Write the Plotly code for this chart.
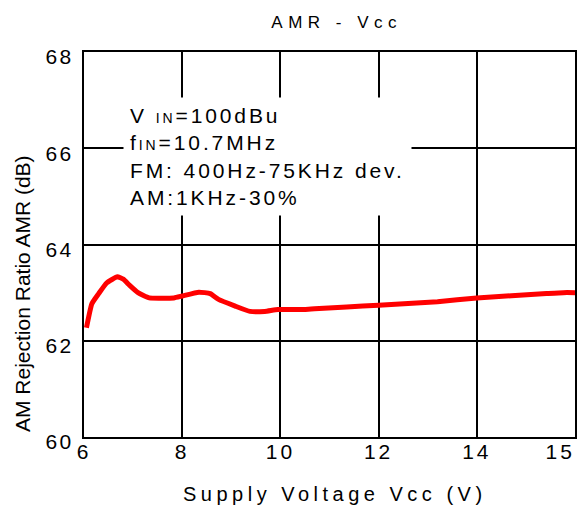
import numpy as np
import plotly.graph_objects as go

# ---- data ----
vcc = [6.05, 6.16, 6.30, 6.46, 6.68, 6.80, 6.93, 7.10, 7.33, 7.83, 8.00, 8.34, 8.57,
       8.74, 9.08, 9.38, 9.68, 9.95, 10.51, 10.79, 11.35, 12.00, 13.20, 14.00,
       14.71, 14.88, 15.00]
amr = [62.27, 62.77, 62.98, 63.20, 63.33, 63.28, 63.15, 63.00, 62.89, 62.89, 62.93,
       63.01, 62.98, 62.86, 62.72, 62.61, 62.61, 62.65, 62.65, 62.67, 62.70, 62.74,
       62.81, 62.89, 62.98, 63.00, 63.00]
x_tick_volts = [6, 8, 10, 12, 14, 15]
x_tick_labels = ["6", "8", "10", "12", "14", "15"]
y_ticks = [60, 62, 64, 66, 68]
title_text = "AMR - Vcc"
x_title = "Supply Voltage Vcc (V)"
y_title = "AM Rejection Ratio AMR (dB)"

FONT = "Liberation Sans, Arial, Helvetica, sans-serif"

# the reference axis spaces its labelled ticks evenly (14->15 as wide as 2 V)
grid_index = list(range(len(x_tick_volts)))
x_pos = np.interp(vcc, x_tick_volts, grid_index)
# label positions: the last label is pulled inside the frame as in the reference
label_pos = list(grid_index[:-1]) + [grid_index[-1] - 0.15]


def spaced(s, px):
    return f"<span style='letter-spacing:{px}px'>{s}</span>"


fig = go.Figure()
fig.add_trace(go.Scatter(x=x_pos, y=amr, mode="lines",
                         line=dict(color="#ff0000", width=5, shape="spline", smoothing=0.4),
                         hoverinfo="skip", showlegend=False))
# empty trace so the label-only overlay axis is drawn
fig.add_trace(go.Scatter(x=[], y=[], xaxis="x2", showlegend=False, hoverinfo="skip"))

small = "<span style='font-size:14px'>IN</span>"
box_lines = [
    f"V {small}=100dBu",
    f"f{small}=10.7MHz",
    "FM: 400Hz-75KHz dev.",
    "AM:1KHz-30%",
]
box_text = spaced("<br>".join(box_lines), 2.9)

L, R, T, B = 84, 3, 52, 69
W, H = 578, 506
pw, ph = W - L - R, H - T - B

fig.update_layout(
    width=W, height=H,
    margin=dict(l=L, r=R, t=T, b=B, autoexpand=False),
    paper_bgcolor="white", plot_bgcolor="white",
    font=dict(family=FONT, color="black"),
    title=dict(text=spaced(title_text, 5.5), x=(333.7 + 3 - L) / pw, xref="paper",
               y=1 - 22 / H, yref="container", xanchor="center", yanchor="middle",
               font=dict(size=17, color="black", family=FONT)),
    xaxis=dict(range=[0, len(x_tick_volts) - 1], tickmode="array", tickvals=grid_index,
               showticklabels=False, showgrid=True, gridcolor="black", gridwidth=2,
               showline=True, linecolor="black", linewidth=2, mirror=True,
               ticks="", zeroline=False, automargin=False, fixedrange=True),
    xaxis2=dict(range=[0, len(x_tick_volts) - 1], overlaying="x", anchor="y", side="bottom",
                tickmode="array", tickvals=label_pos,
                ticktext=[spaced(t, 3) for t in x_tick_labels],
                showgrid=False, showline=False, zeroline=False, ticks="",
                tickfont=dict(size=21, color="black", family=FONT),
                ticklabelstandoff=0, automargin=False, fixedrange=True),
    yaxis=dict(range=[60, 68], tickmode="array", tickvals=y_ticks,
               ticktext=[spaced(str(v), 2.5) for v in y_ticks],
               showgrid=True, gridcolor="black", gridwidth=2,
               showline=True, linecolor="black", linewidth=2, mirror=True,
               ticks="", tickfont=dict(size=21, color="black", family=FONT),
               ticklabelstandoff=4, ticklabelshift=5,
               zeroline=False, automargin=False, fixedrange=True),
    annotations=[
        dict(text=box_text, xref="paper", yref="paper",
             x=(123 - L) / pw, y=(H - B - 97) / ph, xanchor="left", yanchor="top",
             align="left", showarrow=False, bgcolor="white", borderpad=6,
             font=dict(size=21, color="black", family=FONT)),
        dict(text=spaced(x_title, 4.5), xref="paper", yref="paper",
             x=(335 - L) / pw, y=(H - B - 494) / ph, xanchor="center", yanchor="middle",
             showarrow=False, font=dict(size=20, color="black", family=FONT)),
        dict(text=y_title, xref="paper", yref="paper", textangle=-90,
             x=(22 - L) / pw, y=(H - B - 294) / ph, xanchor="center", yanchor="middle",
             showarrow=False, font=dict(size=21, color="black", family=FONT)),
    ],
)

fig.write_html("out.html", config={"displayModeBar": False},
               post_script="document.body.style.margin='0';document.body.style.padding='0';")
